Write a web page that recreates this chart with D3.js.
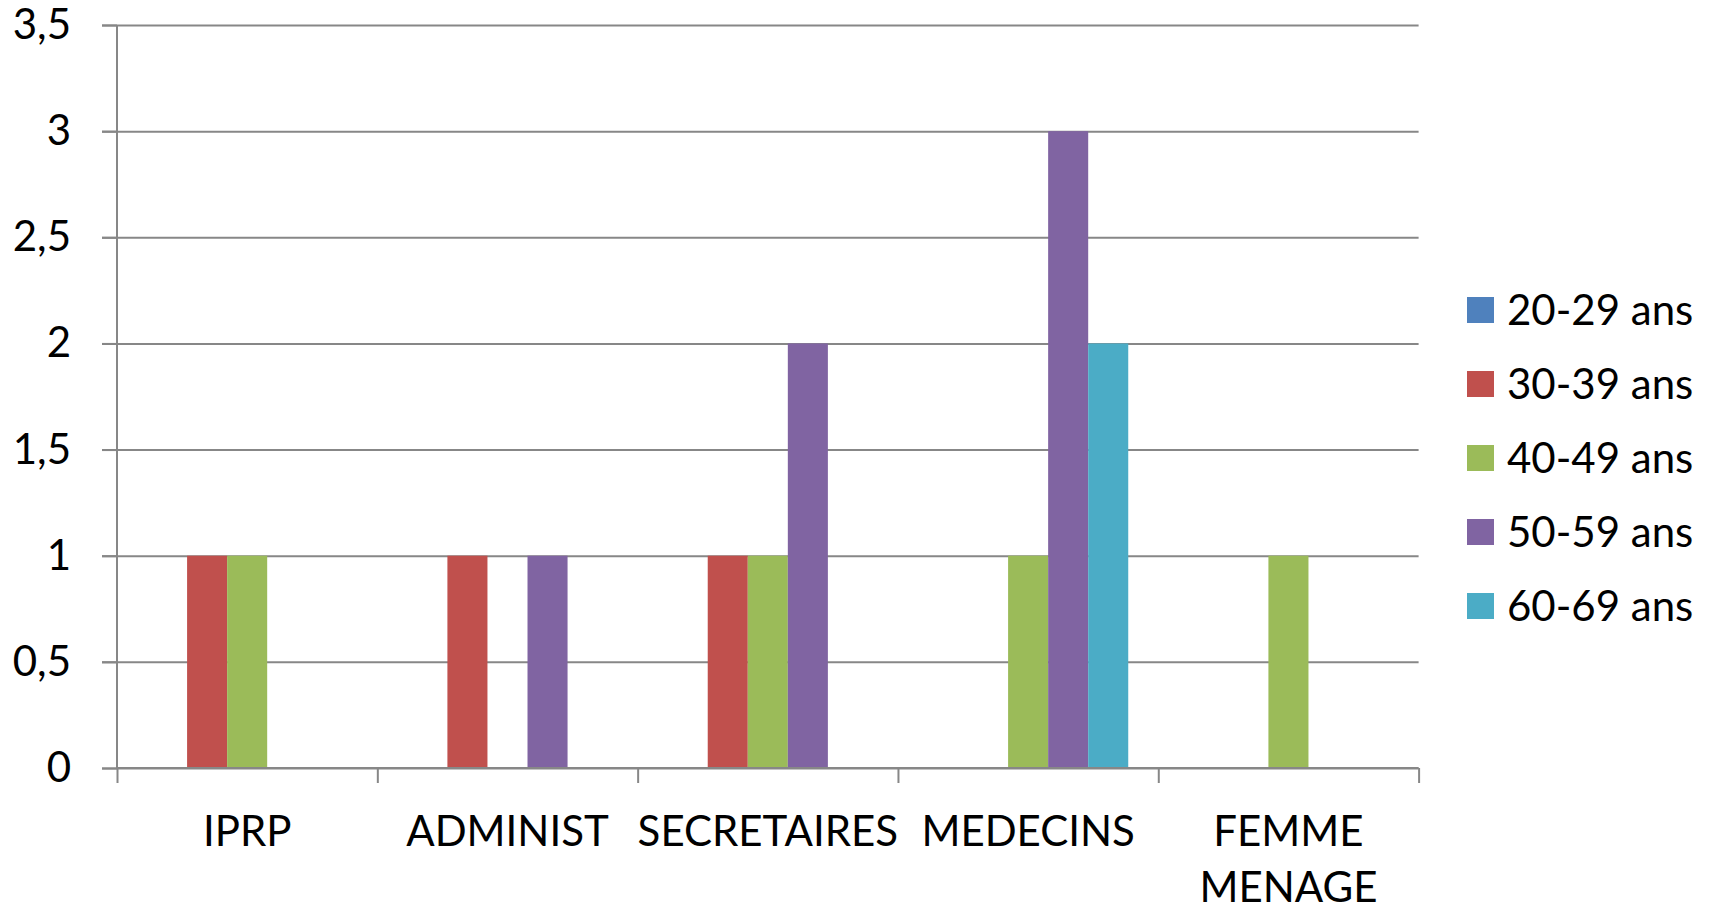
<!DOCTYPE html>
<html>
<head>
<meta charset="utf-8">
<script src="https://cdn.jsdelivr.net/npm/d3@7"></script>
<style>
  body { margin: 0; background: #fff; }
  svg { display: block; font-family: Lato, "Open Sans", sans-serif; }
  .grid line { stroke: #878787; stroke-width: 2px; }
  .grid path { display: none; }
  .axis path, .axis line { stroke: #878787; stroke-width: 2px; }
  .axis text { fill: #000; font-size: 42px; font-family: Lato, "Open Sans", sans-serif; }
  .legend text { font-size: 42px; fill: #000; }
</style>
</head>
<body>
<div id="chart"></div>
<script>
// data
const categories = ["IPRP", "ADMINIST", "SECRETAIRES", "MEDECINS", "FEMME MENAGE"];
const seriesNames = ["20-29 ans", "30-39 ans", "40-49 ans", "50-59 ans", "60-69 ans"];
const s2029 = [0, 0, 0, 0, 0];
const s3039 = [1, 1, 1, 0, 0];
const s4049 = [1, 0, 1, 1, 1];
const s5059 = [0, 1, 2, 3, 0];
const s6069 = [0, 0, 0, 2, 0];
const yTicks = [0, 0.5, 1, 1.5, 2, 2.5, 3, 3.5];
const colors = ["#4F81BD", "#C0504D", "#9BBB59", "#8064A2", "#4BACC6"];

const seriesValues = [s2029, s3039, s4049, s5059, s6069];

let W = 1711, H = 907;
let plot = {left: 117, right: 1418.6, top: 25, bottom: 768};

let svg = d3.select("#chart").append("svg")
    .attr("width", W)
    .attr("height", H);

svg.append("rect").attr("width", W).attr("height", H).attr("fill", "#fff");

let y = d3.scaleLinear()
    .domain([0, 3.5])
    .range([plot.bottom, plot.top]);

let x0 = d3.scaleBand()
    .domain(categories)
    .range([plot.left, plot.right])
    .padding(0);

let x1 = d3.scaleBand()
    .domain(seriesNames)
    .range([0, x0.bandwidth()])
    .paddingInner(0)
    .paddingOuter(0.75);

// horizontal gridlines (they start at the tick mark, left of the axis)
svg.append("g")
    .attr("class", "grid")
    .attr("transform", "translate(" + (plot.left - 15) + ",0)")
    .call(d3.axisLeft(y).tickValues(yTicks).tickSize(-(plot.right - plot.left + 15)).tickFormat(""));

// bars
let rows = categories.map((c, i) => ({cat: c, vals: seriesNames.map((s, j) => ({s: s, j: j, v: seriesValues[j][i]}))}));

svg.append("g")
    .selectAll("g")
    .data(rows)
    .enter()
    .append("g")
    .attr("transform", d => "translate(" + x0(d.cat) + ",0)")
    .selectAll("rect")
    .data(d => d.vals.filter(e => e.v > 0))
    .enter()
    .append("rect")
    .attr("x", d => x1(d.s))
    .attr("width", x1.bandwidth())
    .attr("y", d => y(d.v))
    .attr("height", d => y(0) - y(d.v))
    .attr("fill", d => colors[d.j]);

// y axis
let yAxis = svg.append("g")
    .attr("class", "axis")
    .attr("transform", "translate(" + plot.left + ",0)")
    .call(d3.axisLeft(y).tickValues(yTicks).tickSize(15).tickPadding(31)
        .tickFormat(d => String(d).replace(".", ",")));
yAxis.select(".domain").attr("d", "M0," + plot.top + "V" + plot.bottom);

// x axis ticks at category boundaries
let xb = d3.scaleLinear().domain([0, categories.length]).range([plot.left, plot.right]);
let xAxis = svg.append("g")
    .attr("class", "axis")
    .attr("transform", "translate(0," + plot.bottom + ")")
    .call(d3.axisBottom(xb).ticks(categories.length).tickSize(15).tickFormat(""));
xAxis.select(".domain").attr("d", "M" + plot.left + ",0H" + plot.right);

// category labels
let xLab = svg.append("g")
    .attr("class", "axis")
    .attr("transform", "translate(0," + plot.bottom + ")")
    .call(d3.axisBottom(x0).tickSize(0).tickPadding(48));
xLab.select(".domain").remove();

xLab.selectAll("text").each(function (d) {
    let t = d3.select(this);
    if (this.getComputedTextLength() > x0.bandwidth() * 0.97) {
        let words = d.split(" ");
        let yy = t.attr("y"), dy = t.attr("dy");
        t.text(null);
        words.forEach(function (w, k) {
            t.append("tspan")
                .attr("x", 0)
                .attr("y", yy)
                .attr("dy", k === 0 ? dy : (56 / 42 + 0.71) + "em")
                .text(w);
        });
    }
});

// legend
let legend = svg.append("g")
    .attr("class", "legend")
    .selectAll("g")
    .data(seriesNames)
    .enter()
    .append("g")
    .attr("transform", (d, i) => "translate(1467," + (310 + i * 74) + ")");

legend.append("rect")
    .attr("x", 0)
    .attr("y", -13)
    .attr("width", 27)
    .attr("height", 26)
    .attr("fill", (d, i) => colors[i]);

legend.append("text")
    .attr("x", 40)
    .attr("y", 0)
    .attr("dy", "0.36em")
    .text(d => d);
</script>
</body>
</html>
